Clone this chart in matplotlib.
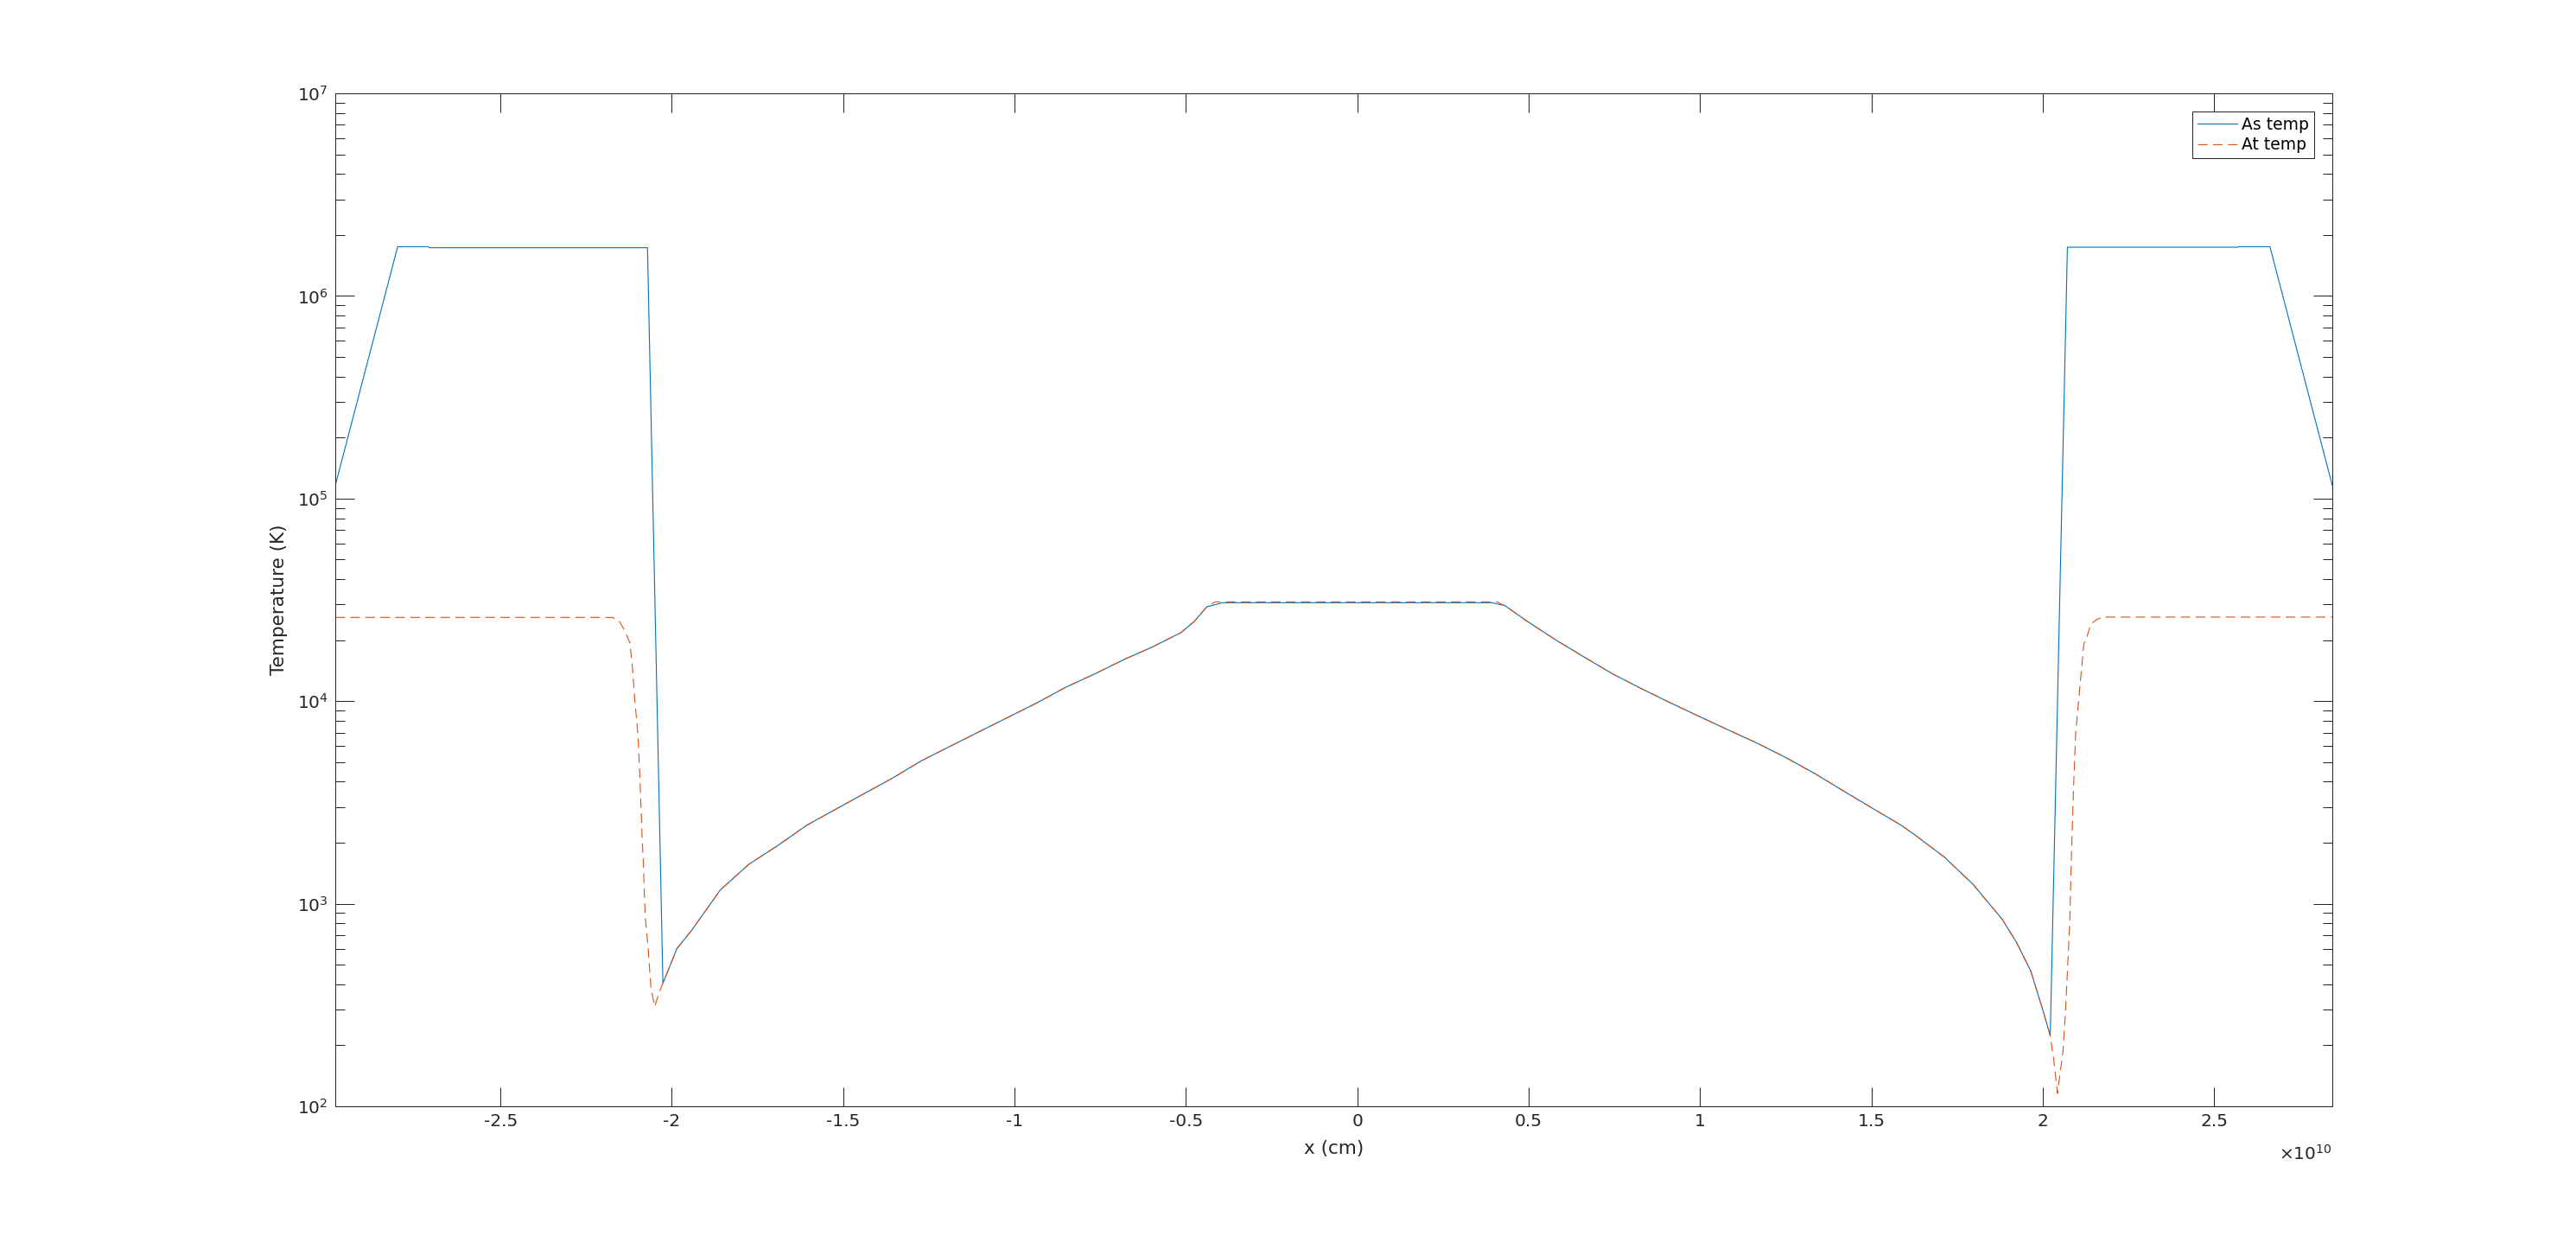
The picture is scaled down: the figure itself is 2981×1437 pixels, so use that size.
import matplotlib
matplotlib.use("Agg")
import matplotlib.pyplot as plt
from matplotlib.ticker import FixedLocator, FuncFormatter, LogLocator, NullFormatter, LogFormatterSciNotation

plt.rcParams['font.family'] = ['DejaVu Sans']
plt.rcParams['axes.unicode_minus'] = False
plt.rcParams['lines.scale_dashes'] = False
plt.rcParams['mathtext.default'] = 'regular'

X_UNIT = 1e10  # x values below are in units of 1e10 cm

# Shared left flank (both curves coincide)
flank_left_x = [-2.026, -1.985, -1.943, -1.859, -1.775, -1.691, -1.607, -1.523, -1.439,
                -1.355, -1.271, -1.187, -1.103, -1.019, -0.935, -0.851, -0.767, -0.682,
                -0.598, -0.514, -0.476, -0.439]
flank_left_T = [405, 601, 736, 1167, 1567, 1937, 2436, 2918, 3494,
                4180, 5085, 5995, 7064, 8318, 9800, 11700, 13600, 16000,
                18500, 21800, 24700, 29200]

# Shared right flank
flank_right_x = [0.431, 0.494, 0.578, 0.662, 0.746, 0.830, 0.914, 0.998, 1.083, 1.167,
                 1.251, 1.335, 1.419, 1.503, 1.587, 1.629, 1.713, 1.797, 1.839, 1.881,
                 1.923, 1.965, 1.999, 2.022]
flank_right_T = [29600, 24900, 20100, 16500, 13600, 11500, 9800, 8400, 7200, 6200,
                 5260, 4390, 3600, 2960, 2440, 2173, 1699, 1245, 1023, 841,
                 647, 466, 304, 223]

# "As temp" specific parts
as_left_x = [-2.982, -2.800, -2.710, -2.708, -2.071]
as_left_T = [1.16e5, 1.75e6, 1.75e6, 1.73e6, 1.73e6]
as_core_x = [-0.393, 0.393]
as_core_T = [30600, 30600]
as_right_x = [2.072, 2.570, 2.572, 2.663, 2.845]
as_right_T = [1.74e6, 1.74e6, 1.75e6, 1.75e6, 1.16e5]

# "At temp" specific parts
at_left_x = [-2.982, -2.173, -2.154, -2.137, -2.123, -2.116, -2.108, -2.099, -2.093,
             -2.087, -2.083, -2.078, -2.069, -2.061, -2.050, -2.036]
at_left_T = [25900, 25900, 24900, 22200, 19500, 15500, 10100, 6830, 4180,
             2175, 1567, 877, 601, 383, 311, 368]
at_core_x = [-0.418, -0.413, 0.409, 0.417]
at_core_T = [30700, 30900, 30900, 30300]
at_right_x = [2.032, 2.043, 2.059, 2.066, 2.073, 2.079, 2.083, 2.087, 2.091, 2.096,
              2.108, 2.120, 2.129, 2.141, 2.158, 2.175, 2.845]
at_right_T = [170, 116, 186, 285, 498, 813, 1567, 2559, 4179, 6823,
              11600, 19100, 20800, 24100, 25300, 26000, 26000]

x_ticks = [-2.5, -2, -1.5, -1, -0.5, 0, 0.5, 1, 1.5, 2, 2.5]
x_limits = [-2.982, 2.845]
y_limits = [1e2, 1e7]
series_labels = ['As temp', 'At temp']
x_label = 'x (cm)'
y_label = 'Temperature (K)'

as_x = as_left_x + flank_left_x + as_core_x + flank_right_x + as_right_x
as_T = as_left_T + flank_left_T + as_core_T + flank_right_T + as_right_T
at_x = at_left_x + flank_left_x + at_core_x + flank_right_x + at_right_x
at_T = at_left_T + flank_left_T + at_core_T + flank_right_T + at_right_T

W, H = 2981, 1437
fig = plt.figure(figsize=(W / 100, H / 100), dpi=100)
fig.patch.set_facecolor('white')
ax = fig.add_axes([388 / W, 1 - 1280 / H, 2311 / W, 1172 / H])

dark = '#262626'
ax.plot([v * X_UNIT for v in as_x], as_T, color='#0072BD', lw=0.8, label=series_labels[0])
ax.plot([v * X_UNIT for v in at_x], at_T, color='#D95319', lw=0.8,
        linestyle=(0, (8, 4.5)), label=series_labels[1])

ax.set_yscale('log')
ax.set_xlim(x_limits[0] * X_UNIT, x_limits[1] * X_UNIT)
ax.set_ylim(*y_limits)

ax.xaxis.set_major_locator(FixedLocator([t * X_UNIT for t in x_ticks]))
ax.xaxis.set_major_formatter(FuncFormatter(lambda v, p: '%g' % (v / X_UNIT)))
ax.yaxis.set_major_locator(LogLocator(base=10, numticks=10))
ax.yaxis.set_minor_locator(LogLocator(base=10, subs=range(2, 10), numticks=20))
ax.yaxis.set_major_formatter(LogFormatterSciNotation())
ax.yaxis.set_minor_formatter(NullFormatter())

ax.tick_params(which='both', direction='in', top=True, right=True, color=dark,
               width=0.72, labelsize=14.5, labelcolor=dark, pad=6)
ax.tick_params(which='major', length=15.8)
ax.tick_params(which='minor', length=7.9)
for s in ax.spines.values():
    s.set_color(dark)
    s.set_linewidth(0.72)

ax.set_xlabel(x_label, fontsize=15.5, color=dark)
ax.xaxis.set_label_coords(0.5, -0.0418)
ax.xaxis.label.set_va('center')
ax.set_ylabel(y_label, fontsize=15.5, color=dark, va='center', ha='center')
ax.yaxis.set_label_coords(-0.0281, 0.5)

ax.text(1.0, -0.0529, r'$\times10^{10}$', transform=ax.transAxes, ha='right',
        va='baseline', fontsize=14.5, color=dark)

leg = ax.legend(loc='upper right', bbox_to_anchor=(1 - 21 / 2311, 1 - 21 / 1172),
                borderaxespad=0, fancybox=False, framealpha=1, edgecolor=dark,
                fontsize=13.5, handlelength=2.45, handletextpad=0.3,
                borderpad=0.3, labelspacing=0.25)
leg.get_frame().set_linewidth(0.72)

fig.savefig('out.png', dpi=100, facecolor='white')
